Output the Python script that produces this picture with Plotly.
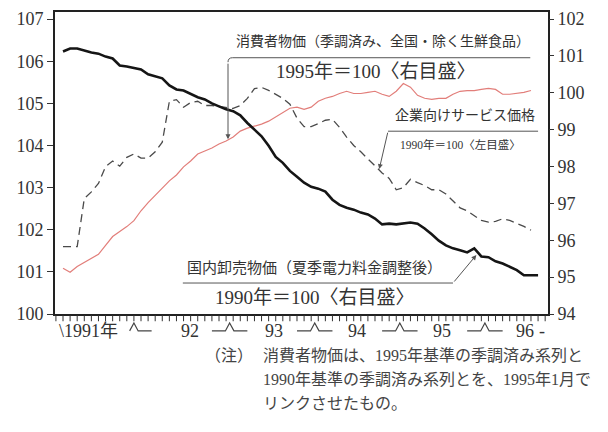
import plotly.graph_objects as go

# ---- data (monthly, Jan 1991 - Aug 1996) ----
months = [f"{1991 + i // 12}-{i % 12 + 1:02d}" for i in range(68)]

# 国内卸売物価 (右目盛, 1990=100)
wholesale = [101.12, 101.20, 101.20, 101.14, 101.09, 101.06, 100.98, 100.93, 100.74, 100.71,
             100.68, 100.63, 100.50, 100.44, 100.39, 100.20, 100.09, 100.06, 99.96, 99.88,
             99.82, 99.71, 99.63, 99.55, 99.50, 99.39, 99.18, 99.01, 98.82, 98.56,
             98.26, 98.10, 97.88, 97.72, 97.56, 97.45, 97.40, 97.32, 97.10, 96.96,
             96.88, 96.83, 96.75, 96.70, 96.59, 96.43, 96.45, 96.43, 96.45, 96.48,
             96.45, 96.32, 96.16, 95.99, 95.86, 95.78, 95.73, 95.67, 95.78, 95.56,
             95.54, 95.43, 95.37, 95.29, 95.19, 95.05, 95.05, 95.05]

# 消費者物価 (右目盛, 1995=100)
cpi = [95.24, 95.13, 95.29, 95.40, 95.51, 95.62, 95.86, 96.10, 96.24, 96.37,
       96.53, 96.80, 97.02, 97.21, 97.42, 97.61, 97.77, 97.99, 98.15, 98.34,
       98.42, 98.50, 98.61, 98.69, 98.80, 98.96, 99.04, 99.09, 99.15, 99.23,
       99.34, 99.47, 99.58, 99.61, 99.55, 99.61, 99.77, 99.85, 99.90, 99.98,
       100.04, 99.98, 99.98, 100.01, 100.04, 99.96, 99.90, 100.04, 100.25, 100.15,
       99.93, 99.85, 99.82, 99.85, 99.85, 99.96, 100.04, 100.06, 100.06, 100.09,
       100.12, 100.09, 99.96, 99.96, 99.98, 100.01, 100.06]

# 企業向けサービス価格 (左目盛, 1990=100)
services = [101.60, 101.60, 101.60, 102.74, 102.90, 103.10, 103.50, 103.63, 103.51, 103.72,
            103.80, 103.70, 103.70, 103.85, 104.08, 105.05, 105.09, 104.91, 105.02, 105.05,
            104.95, 104.95, 104.93, 104.91, 104.88, 104.95, 105.12, 105.35, 105.38, 105.31,
            105.21, 105.12, 104.98, 104.65, 104.45, 104.45, 104.52, 104.60, 104.62, 104.43,
            104.20, 104.00, 103.85, 103.68, 103.52, 103.35, 103.22, 102.95, 103.00, 103.20,
            103.12, 103.05, 102.95, 102.95, 102.85, 102.68, 102.52, 102.45, 102.33, 102.22,
            102.18, 102.20, 102.26, 102.22, 102.15, 102.08, 101.99]

left_ticks = [100, 101, 102, 103, 104, 105, 106, 107]
right_ticks = [94, 95, 96, 97, 98, 99, 100, 101, 102]
year_labels = ["\\1991年", "92", "93", "94", "95", "96"]

x_all = list(range(len(months)))
X0, X1 = -1.13, 68.4


def xp(m):
    """month position -> paper x"""
    return (m - X0) / (X1 - X0)


FONT = "Times New Roman, Liberation Serif, Noto Sans CJK JP, serif"
TXT = "#333333"

fig = go.Figure()
fig.add_trace(go.Scatter(x=x_all[:len(services)], y=services, mode="lines", yaxis="y",
                         line=dict(color="#4a4a4a", width=1.3, dash="8px,5px"),
                         customdata=months[:len(services)], hovertemplate="%{customdata}: %{y}<extra></extra>"))
fig.add_trace(go.Scatter(x=x_all[:len(cpi)], y=cpi, mode="lines", yaxis="y2",
                         line=dict(color="#e27e7a", width=1.2),
                         customdata=months[:len(cpi)], hovertemplate="%{customdata}: %{y}<extra></extra>"))
fig.add_trace(go.Scatter(x=x_all, y=wholesale, mode="lines", yaxis="y2",
                         line=dict(color="#151515", width=2.6),
                         customdata=months, hovertemplate="%{customdata}: %{y}<extra></extra>"))

# ---- callout decorations ----
shapes = []
annotations = []
line_style = dict(color="#555555", width=1)

# 消費者物価 callout (right axis)
shapes.append(dict(type="path", xref="x", yref="y2",
                   path="M 65.9,100.95 L 23.9,100.95 Q 23.27,100.95 23.27,100.83",
                   line=line_style))
annotations.append(dict(x=23.27, y=98.74, xref="x", yref="y2", ax=23.27, ay=100.83,
                        axref="x", ayref="y2", text="", showarrow=True, arrowhead=2,
                        arrowsize=1, arrowwidth=1, arrowcolor="#555555", standoff=0))
annotations.append(dict(x=45.1, y=101.39, xref="x", yref="y2", showarrow=False,
                        text="消費者物価（季調済み、全国・除く生鮮食品）",
                        font=dict(size=14, color=TXT, family=FONT)))
annotations.append(dict(x=44.1, y=100.58, xref="x", yref="y2", showarrow=False,
                        text="1995年＝100〈右目盛〉",
                        font=dict(size=19, color=TXT, family=FONT)))

# 企業向けサービス価格 callout (left axis)
shapes.append(dict(type="line", xref="x", yref="y", x0=45.84, x1=67.0, y0=104.34, y1=104.34,
                   line=line_style))
annotations.append(dict(x=44.6, y=103.44, xref="x", yref="y", ax=45.84, ay=104.34,
                        axref="x", ayref="y", text="", showarrow=True, arrowhead=2,
                        arrowsize=1, arrowwidth=1, arrowcolor="#555555", standoff=0))
annotations.append(dict(x=66.8, y=104.72, xref="x", yref="y", showarrow=False, xanchor="right",
                        text="企業向けサービス価格",
                        font=dict(size=14, color=TXT, family=FONT)))
annotations.append(dict(x=56.1, y=104.03, xref="x", yref="y", showarrow=False,
                        text="1990年＝100〈左目盛〉",
                        font=dict(size=11.5, color=TXT, family=FONT)))

# 国内卸売物価 callout (right axis)
shapes.append(dict(type="line", xref="x", yref="y2", x0=16.9, x1=55.0, y0=94.84, y1=94.84,
                   line=line_style))
annotations.append(dict(x=58.3, y=95.6, xref="x", yref="y2", ax=55.0, ay=94.84,
                        axref="x", ayref="y2", text="", showarrow=True, arrowhead=2,
                        arrowsize=1, arrowwidth=1, arrowcolor="#555555", standoff=0))
annotations.append(dict(x=17.2, y=95.24, xref="x", yref="y2", showarrow=False, xanchor="left",
                        text="国内卸売物価（夏季電力料金調整後）",
                        font=dict(size=15, color=TXT, family=FONT)))
annotations.append(dict(x=35.5, y=94.46, xref="x", yref="y2", showarrow=False,
                        text="1990年＝100〈右目盛〉",
                        font=dict(size=19, color=TXT, family=FONT)))

# ---- monthly tick marks under the bottom axis ----
for m in range(-1, 69):
    shapes.append(dict(type="line", xref="paper", yref="paper", x0=xp(m), x1=xp(m),
                       y0=-0.004, y1=-0.024, line=dict(color="#333333", width=1)))

# ---- x-axis year labels with boundary marks ----
label_pos = [-0.9, 17.9, 29.7, 41.5, 53.5, 65.2]
label_anchor = ["left", "center", "center", "center", "center", "center"]
for pos, lab, anc in zip(label_pos, year_labels, label_anchor):
    annotations.append(dict(x=xp(pos), y=-0.056, xref="paper", yref="paper", showarrow=False,
                            xanchor=anc, yanchor="middle", text=lab,
                            font=dict(size=18, color=TXT, family=FONT)))
annotations.append(dict(x=xp(68.2), y=-0.056, xref="paper", yref="paper", showarrow=False,
                        yanchor="middle", text="-", font=dict(size=18, color=TXT, family=FONT)))

boundaries = [10.0, 23.5, 35.5, 47.5, 59.5]
for i, b in enumerate(boundaries):
    left = b - 0.6 if i == 0 else b - 2.5
    pts = [(left, -0.056), (b - 0.6, -0.056), (b, -0.030), (b + 0.6, -0.056), (b + 2.5, -0.056)]
    path = "M " + " L ".join(f"{xp(px):.4f},{py}" for px, py in pts)
    shapes.append(dict(type="path", xref="paper", yref="paper", path=path,
                       line=dict(color="#444444", width=1.2)))

# ---- footnote ----
note_lines = ["消費者物価は、1995年基準の季調済み系列と",
              "1990年基準の季調済み系列とを、1995年1月で",
              "リンクさせたもの。"]
annotations.append(dict(x=0.300, y=-0.138, xref="paper", yref="paper", showarrow=False,
                        xanchor="left", yanchor="middle", text="（注）",
                        font=dict(size=16, color="#444444", family=FONT)))
for k, t in enumerate(note_lines):
    annotations.append(dict(x=0.418, y=-0.138 - 0.079 * k, xref="paper", yref="paper",
                            showarrow=False, xanchor="left", yanchor="middle", text=t,
                            font=dict(size=16, color="#444444", family=FONT)))

# figure is placed 8px inside the page by the default body margin
fig.update_layout(
    width=592, height=416,
    margin=dict(l=47, r=52, t=2, b=110),
    paper_bgcolor="white", plot_bgcolor="white",
    showlegend=False,
    font=dict(family=FONT, color=TXT),
    shapes=shapes, annotations=annotations,
    xaxis=dict(range=[X0, X1], showline=True, linewidth=2, linecolor="#222222",
               mirror=True, ticks="", showticklabels=False,
               showgrid=False, zeroline=False),
    yaxis=dict(range=[100, 107.17], tickvals=left_ticks, ticks="outside", ticklen=6,
               tickcolor="#333333", showline=True, linewidth=2, linecolor="#222222",
               mirror=True, showgrid=False, zeroline=False, automargin=False,
               tickfont=dict(size=18, color=TXT, family=FONT)),
    yaxis2=dict(range=[94, 102.19], tickvals=right_ticks, overlaying="y", side="right",
                ticks="outside", ticklen=5, tickcolor="#333333", showline=False,
                showgrid=False, zeroline=False, automargin=False,
                tickfont=dict(size=18, color=TXT, family=FONT)),
)

fig.write_html("out.html")
